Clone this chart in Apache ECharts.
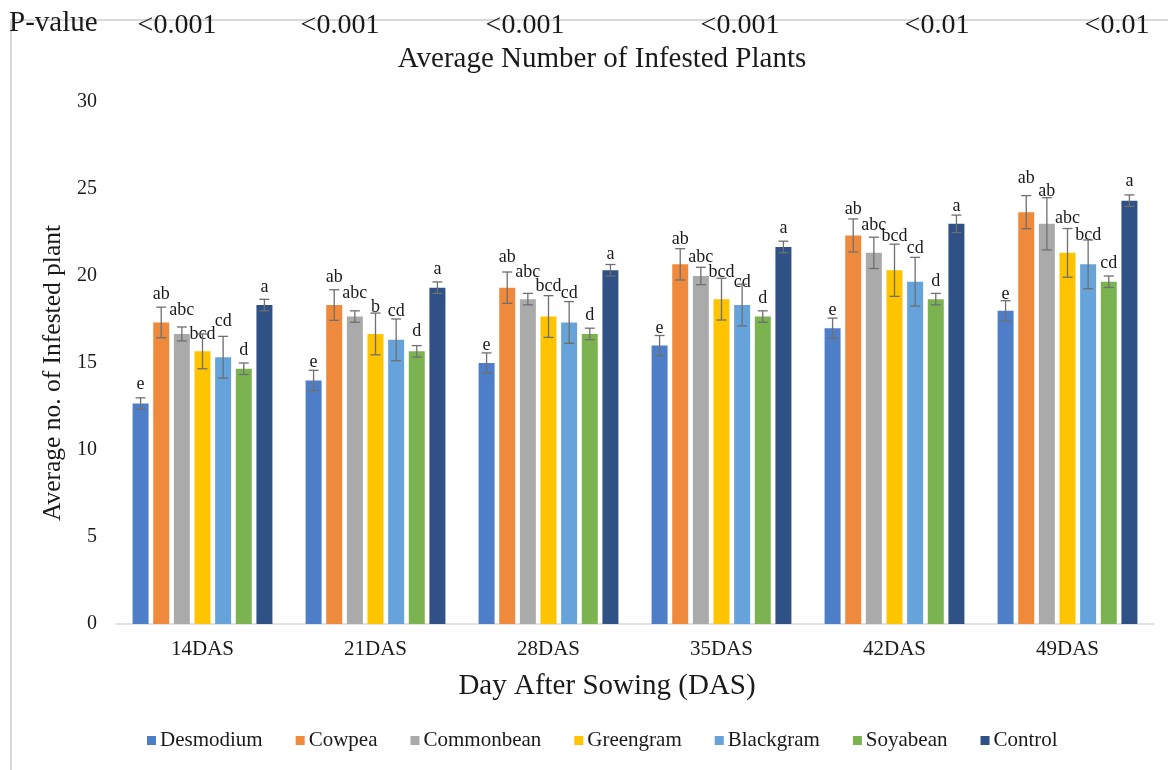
<!DOCTYPE html>
<html>
<head>
<meta charset="utf-8">
<script src="https://cdn.jsdelivr.net/npm/echarts@6/dist/echarts.min.js"></script>
<style>
  html, body { margin: 0; padding: 0; background: #ffffff; }
  #chart { width: 1168px; height: 770px; }
</style>
</head>
<body>
<div id="chart"></div>
<script>
// Sampling days
const categories = ['14DAS', '21DAS', '28DAS', '35DAS', '42DAS', '49DAS'];

// Mean number of infested plants per treatment
const desmodium  = [12.67, 14.0, 15.0, 16.0, 17.0, 18.0];
const cowpea     = [17.33, 18.33, 19.33, 20.67, 22.33, 23.67];
const commonbean = [16.67, 17.67, 18.67, 20.0, 21.33, 23.0];
const greengram  = [15.67, 16.67, 17.67, 18.67, 20.33, 21.33];
const blackgram  = [15.33, 16.33, 17.33, 18.33, 19.67, 20.67];
const soyabean   = [14.67, 15.67, 16.67, 17.67, 18.67, 19.67];
const control    = [18.33, 19.33, 20.33, 21.67, 23.0, 24.33];

// Standard errors
const desmodiumErr  = [0.33, 0.58, 0.58, 0.58, 0.58, 0.58];
const cowpeaErr     = [0.88, 0.88, 0.9, 0.9, 0.95, 0.95];
const commonbeanErr = [0.4, 0.33, 0.33, 0.5, 0.9, 1.5];
const greengramErr  = [1.0, 1.2, 1.2, 1.2, 1.5, 1.4];
const blackgramErr  = [1.2, 1.2, 1.2, 1.2, 1.4, 1.4];
const soyabeanErr   = [0.33, 0.33, 0.33, 0.33, 0.33, 0.33];
const controlErr    = [0.33, 0.33, 0.33, 0.33, 0.5, 0.33];

// Mean separation letters
const desmodiumLetters  = ['e', 'e', 'e', 'e', 'e', 'e'];
const cowpeaLetters     = ['ab', 'ab', 'ab', 'ab', 'ab', 'ab'];
const commonbeanLetters = ['abc', 'abc', 'abc', 'abc', 'abc', 'ab'];
const greengramLetters  = ['bcd', 'b', 'bcd', 'bcd', 'bcd', 'abc'];
const blackgramLetters  = ['cd', 'cd', 'cd', 'cd', 'cd', 'bcd'];
const soyabeanLetters   = ['d', 'd', 'd', 'd', 'd', 'cd'];
const controlLetters    = ['a', 'a', 'a', 'a', 'a', 'a'];

// P-values for each sampling day
const pLabel = 'P-value';
const pValues = ['<0.001', '<0.001', '<0.001', '<0.001', '<0.01', '<0.01'];

const treatments = [
  { name: 'Desmodium',  values: desmodium,  err: desmodiumErr,  letters: desmodiumLetters },
  { name: 'Cowpea',     values: cowpea,     err: cowpeaErr,     letters: cowpeaLetters },
  { name: 'Commonbean', values: commonbean, err: commonbeanErr, letters: commonbeanLetters },
  { name: 'Greengram',  values: greengram,  err: greengramErr,  letters: greengramLetters },
  { name: 'Blackgram',  values: blackgram,  err: blackgramErr,  letters: blackgramLetters },
  { name: 'Soyabean',   values: soyabean,   err: soyabeanErr,   letters: soyabeanLetters },
  { name: 'Control',    values: control,    err: controlErr,    letters: controlLetters }
];

// ---- styling / layout ----
const FONT = '"Liberation Serif", "Times New Roman", serif';
const colors = ['#4f7ec9', '#ef8a3c', '#aaaaaa', '#ffc400', '#65a3da', '#7ab350', '#2f5185'];
const BAR_W = 16;
const BAR_GAP = 0.29;            // fraction of bar width between bars
// Lift (px) of each letter above its bar top, per treatment and day
const letterLift = [
  [20, 19, 19, 18, 19, 18],
  [29, 29, 31, 26, 27, 35],
  [25, 24, 28, 20, 29, 34],
  [18, 28, 31, 28, 35, 36],
  [37, 30, 30, 24, 34, 30],
  [19, 21, 20, 19, 19, 19],
  [19, 19, 17, 20, 19, 20]
];
// Horizontal centres of the p-value row
const pValueX = [177, 340, 525, 740, 937, 1117];

const nSeries = treatments.length;
const groupW = nSeries * BAR_W + (nSeries - 1) * BAR_W * BAR_GAP;

function barOffset(i) {
  return -groupW / 2 + i * BAR_W * (1 + BAR_GAP) + BAR_W / 2;
}

const series = [];
treatments.forEach(function (t, i) {
  series.push({
    name: t.name,
    type: 'bar',
    barWidth: BAR_W,
    barGap: (BAR_GAP * 100) + '%',
    itemStyle: { color: colors[i] },
    data: t.values.map(function (v, j) {
      return {
        value: v,
        label: {
          show: true,
          position: 'top',
          distance: letterLift[i][j] - 10,
          formatter: t.letters[j],
          fontFamily: FONT,
          fontSize: 18,
          color: '#1a1a1a'
        }
      };
    })
  });
});

// Error bars drawn on the category axis next to each bar
treatments.forEach(function (t, i) {
  series.push({
    name: t.name + ' SE',
    type: 'custom',
    z: 5,
    silent: true,
    legendHoverLink: false,
    data: t.values.map(function (v, j) { return [j, v - t.err[j], v + t.err[j]]; }),
    encode: { x: 0, y: [1, 2] },
    renderItem: function (params, api) {
      const lo = api.coord([api.value(0), api.value(1)]);
      const hi = api.coord([api.value(0), api.value(2)]);
      const x = lo[0] + barOffset(i);
      const cap = 5;
      const style = { stroke: '#6f6f6f', lineWidth: 1.3 };
      return {
        type: 'group',
        children: [
          { type: 'line', shape: { x1: x, y1: hi[1], x2: x, y2: lo[1] }, style: style },
          { type: 'line', shape: { x1: x - cap, y1: hi[1], x2: x + cap, y2: hi[1] }, style: style },
          { type: 'line', shape: { x1: x - cap, y1: lo[1], x2: x + cap, y2: lo[1] }, style: style }
        ]
      };
    }
  });
});

const graphics = [
  // outer frame lines
  { type: 'line', shape: { x1: 11, y1: 20, x2: 1168, y2: 20 }, style: { stroke: '#d9d9d9', lineWidth: 2 }, z: 0 },
  { type: 'line', shape: { x1: 11, y1: 20, x2: 11, y2: 770 }, style: { stroke: '#d9d9d9', lineWidth: 2 }, z: 0 },
  { type: 'text', left: 9, top: 9, z: 10,
    style: { text: pLabel, font: '29px ' + FONT, fill: '#1a1a1a' } }
];
pValues.forEach(function (p, j) {
  graphics.push({
    type: 'text', x: pValueX[j], y: 26, z: 10,
    style: { text: p, font: '28px ' + FONT, fill: '#1a1a1a', textAlign: 'center', textVerticalAlign: 'middle' }
  });
});

const chart = echarts.init(document.getElementById('chart'));
chart.setOption({
  animation: false,
  backgroundColor: '#ffffff',
  color: colors,
  title: {
    text: 'Average Number of Infested Plants',
    left: 597,
    textAlign: 'center',
    top: 40,
    textStyle: { fontFamily: FONT, fontSize: 29, fontWeight: 'normal', color: '#1a1a1a' }
  },
  graphic: graphics,
  legend: {
    data: treatments.map(function (t) { return t.name; }),
    bottom: 14,
    left: 142,
    itemWidth: 9,
    itemHeight: 9,
    itemGap: 33,
    icon: 'rect',
    textStyle: { fontFamily: FONT, fontSize: 21, color: '#1a1a1a', padding: [0, 0, 0, -1] }
  },
  grid: { left: 116, right: 14, top: 102, bottom: 146, containLabel: false },
  xAxis: {
    type: 'category',
    data: categories,
    name: 'Day After Sowing (DAS)',
    nameLocation: 'middle',
    nameGap: 48,
    nameTextStyle: { fontFamily: FONT, fontSize: 29, color: '#1a1a1a', padding: [0, 56, 0, 0] },
    axisLine: { lineStyle: { color: '#d9d9d9', width: 1.5 } },
    axisTick: { show: false },
    axisLabel: { fontFamily: FONT, fontSize: 21, color: '#1a1a1a', margin: 15 }
  },
  yAxis: {
    type: 'value',
    min: 0,
    max: 30,
    interval: 5,
    name: 'Average no. of Infested plant',
    nameLocation: 'middle',
    nameGap: 41,
    nameTextStyle: { fontFamily: FONT, fontSize: 25.5, color: '#1a1a1a', padding: [0, 20, 0, 0] },
    axisLine: { show: false },
    axisTick: { show: false },
    splitLine: { show: false },
    axisLabel: { fontFamily: FONT, fontSize: 20, color: '#1a1a1a', margin: 19 }
  },
  series: series
});
</script>
</body>
</html>
